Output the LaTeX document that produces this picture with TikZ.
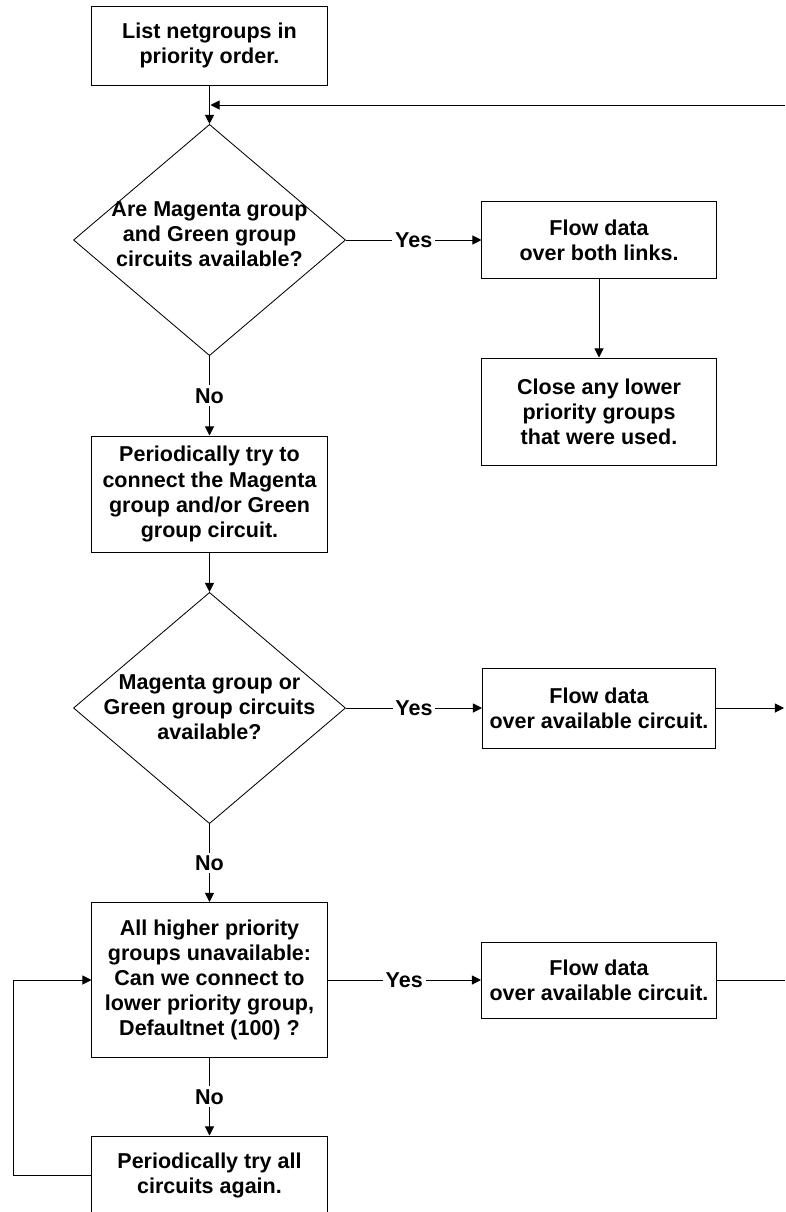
\documentclass[tikz,border=0pt]{standalone}
\usepackage{fontspec}
\setmainfont{Liberation Sans}
\usetikzlibrary{shapes.geometric,arrows.meta}

\newcommand{\flowfont}{\fontsize{15.3}{17.8}\selectfont\bfseries}

\tikzset{
  box/.style={draw, align=center, font=\flowfont, minimum width=5.875cm},
  decision/.style={draw, diamond, line width=0.6pt, minimum width=6.8cm, minimum height=5.78cm, inner sep=0pt},
  dtext/.style={align=center, font=\flowfont},
  answer/.style={fill=white, font=\flowfont, inner sep=2pt},
  >={Triangle[length=6.5pt,width=6.5pt]}
}

\begin{document}
\begin{tikzpicture}[x=0.025cm, y=-0.025cm, line width=0.7pt]
        \useasboundingbox (0,0) rectangle (785,1212);
        \node[box, minimum height=1.975cm] (list) at (209.5,45.5) {List netgroups in\\priority order.};
        \node[decision] (both) at (209.5,240) {};
        \node[dtext] (bothq) at (209.5,234) {Are Magenta group\\and Green group\\circuits available?};
        \node[box, minimum width=5.85cm, minimum height=1.925cm] (flowboth) at (599,240) {Flow data\\over both links.};
        \node[box, minimum width=5.85cm, minimum height=2.675cm] (close) at (599,411.5) {Close any lower\\priority groups\\that were used.};
        \node[box, minimum height=2.9cm] (retry) at (209.5,494) {Periodically try to\\connect the Magenta\\group and/or Green\\group circuit.};
        \node[decision] (either) at (209.5,708) {};
        \node[dtext] (eitherq) at (209.5,707) {Magenta group or\\Green group circuits\\available?};
        \node[box, minimum width=5.825cm, minimum height=2cm] (flowone) at (599,708) {Flow data\\over available circuit.};
        \node[box, minimum height=3.875cm] (lower) at (209.5,980) {All higher priority\\groups unavailable:\\Can we connect to\\lower priority group,\\Defaultnet (100) ?};
        \node[box, minimum width=5.875cm, minimum height=1.9cm] (flowlow) at (599,980) {Flow data\\over available circuit.};
        \node[box, minimum height=1.95cm] (retryall) at (209.5,1175) {Periodically try all\\circuits again.};
        \coordinate (back) at (785,105);
        \coordinate (merge) at (210.5,105);
        \coordinate (out1) at (784,708);
        \coordinate (out2) at (785,980);
        \coordinate (loop) at (13,1175);
        \draw[->] (list) -- (both);
        \draw[->] (back) -- (merge);
        \draw[->] (both) -- node[answer] {Yes} (flowboth);
        \draw[->] (flowboth) -- (close);
        \draw[->] (both) -- node[answer] {No} (retry);
        \draw[->] (retry) -- (either);
        \draw[->] (either) -- node[answer] {Yes} (flowone);
        \draw[->] (flowone) -- (out1);
        \draw[->] (either) -- node[answer] {No} (lower);
        \draw[->] (lower) -- node[answer] {Yes} (flowlow);
        \draw (flowlow) -- (out2);
        \draw[->] (lower) -- node[answer] {No} (retryall);
        \draw[->] (retryall.west) -- (loop) |- (lower.west);
      \end{tikzpicture}
\end{document}
